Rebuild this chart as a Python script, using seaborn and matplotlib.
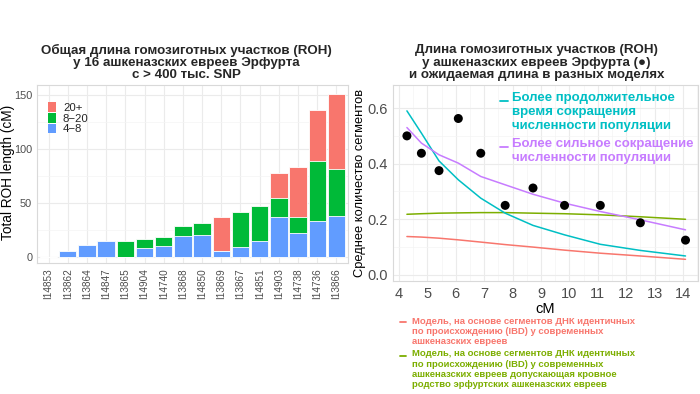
import matplotlib
matplotlib.use("Agg")
import matplotlib.pyplot as plt
import seaborn as sns
import numpy as np
import pandas as pd
from matplotlib.patches import Patch
from matplotlib.lines import Line2D
from matplotlib.ticker import MultipleLocator, FormatStrFormatter

# ---------------- data ----------------
samples = ["I14853", "I13862", "I13864", "I14847", "I13865", "I14904", "I14740", "I13868",
           "I14850", "I13869", "I13867", "I14851", "I14903", "I14738", "I14736", "I13866"]
roh_4_8 = [0, 5.6, 11.1, 14.8, 0, 8.0, 9.9, 19.4, 20.7, 5.2, 9.0, 14.5, 37.0, 22.2, 33.3, 37.7]
roh_8_20 = [0, 0, 0, 0, 15.1, 8.4, 8.6, 9.0, 10.8, 0, 32.7, 32.5, 18.0, 14.5, 55.3, 43.8]
roh_20p = [0, 0, 0, 0, 0, 0, 0, 0, 0, 31.8, 0, 0, 23.0, 46.3, 47.8, 69.1]
bin_labels = ["20+", "8\u221220", "4\u22128"]

seg_cm = [4.28, 4.79, 5.41, 6.09, 6.88, 7.74, 8.72, 9.83, 11.09, 12.50, 14.09]
observed = [0.5, 0.4375, 0.375, 0.5625, 0.4375, 0.25, 0.3125, 0.25, 0.25, 0.1875, 0.125]
model_longer = [0.59, 0.51, 0.41, 0.342, 0.276, 0.222, 0.178, 0.144, 0.110, 0.088, 0.068]
model_stronger = [0.53, 0.474, 0.432, 0.402, 0.354, 0.324, 0.290, 0.258, 0.228, 0.198, 0.162]
model_ibd_kin = [0.218, 0.220, 0.222, 0.223, 0.224, 0.224, 0.222, 0.220, 0.216, 0.209, 0.200]
model_ibd = [0.138, 0.136, 0.132, 0.126, 0.118, 0.109, 0.100, 0.089, 0.078, 0.068, 0.056]

legend_longer = "Более продолжительное\nвремя сокращения\nчисленности популяции"
legend_stronger = "Более сильное сокращение\nчисленности популяции"
legend_ibd = "Модель, на основе сегментов ДНК идентичных\nпо происхождению (IBD) у современных\nашкеназских евреев"
legend_ibd_kin = ("Модель, на основе сегментов ДНК идентичных\nпо происхождению (IBD) у современных\n"
                  "ашкеназских евреев допускающая кровное\nродство эрфуртских ашкеназских евреев")

title_left = "Общая длина гомозиготных участков (ROH)\nу 16 ашкеназских евреев Эрфурта\nс > 400 тыс. SNP"
title_right = "Длина гомозиготных участков (ROH)\nу ашкеназских евреев Эрфурта (\u25CF)\nи ожидаемая длина в разных моделях"

# colors
C_RED = "#F8766D"
C_GREEN = "#00BA38"
C_BLUE = "#619CFF"
C_CYAN = "#00BFC4"
C_PURPLE = "#C77CFF"
C_OLIVE = "#7CAE00"

sns.set_theme(style="white")
plt.rcParams["font.family"] = ["Liberation Sans", "DejaVu Sans"]

fig = plt.figure(figsize=(7.0, 3.94), dpi=100)
W, H = 700, 394


def px_axes(l, t, r, b):
    return fig.add_axes([l / W, 1 - b / H, (r - l) / W, (b - t) / H])


def style_axes(ax):
    for s in ax.spines.values():
        s.set_color("#d9d9d9")
        s.set_linewidth(0.8)
    ax.grid(True, which="major", color="#ebebeb", linewidth=0.8)
    ax.grid(True, which="minor", color="#f4f4f4", linewidth=0.5)
    ax.set_axisbelow(True)
    ax.tick_params(which="major", length=2.5, width=0.6, color="#bfbfbf", colors="#4d4d4d")
    ax.tick_params(which="minor", length=0)


# ---------------- left panel ----------------
axL = px_axes(37, 85, 348, 263)
df = pd.DataFrame({"sample": samples,
                   "b48": roh_4_8,
                   "b820": roh_8_20,
                   "b20": roh_20p})
df["cum_820"] = df["b48"] + df["b820"]
df["cum_20"] = df["cum_820"] + df["b20"]

common = dict(x="sample", order=samples, ax=axL, width=0.9, edgecolor="white",
              linewidth=0.6, saturation=1)
sns.barplot(data=df, y="cum_20", color=C_RED, **common)
sns.barplot(data=df, y="cum_820", color=C_GREEN, **common)
sns.barplot(data=df, y="b48", color=C_BLUE, **common)

axL.set_xlim(-0.6, len(samples) - 0.4)
axL.set_ylim(-5.6, 159.3)
axL.yaxis.set_major_locator(MultipleLocator(50))
axL.yaxis.set_minor_locator(MultipleLocator(25))
style_axes(axL)
axL.tick_params(axis="x", rotation=90, labelsize=7.2, pad=1.5)
axL.tick_params(axis="y", labelsize=7.8, pad=1.0)
axL.set_xlabel("")
axL.set_ylabel("Total ROH length (cM)", fontsize=9.8, color="black")
axL.yaxis.set_label_coords(-0.071, 0.51)
axL.set_title(title_left, fontsize=9.6, fontweight="bold", linespacing=1.02, pad=5, x=0.48)

handles = [Patch(facecolor=c, edgecolor="none") for c in (C_RED, C_GREEN, C_BLUE)]
axL.legend(handles, bin_labels, loc="upper left", bbox_to_anchor=(0.01, 0.95), frameon=False,
           fontsize=8.2, handlelength=0.7, handleheight=0.95, handletextpad=0.6,
           labelspacing=0.0, borderpad=0.2)

# ---------------- right panel ----------------
axR = px_axes(393, 85, 698, 281)
dfm = pd.DataFrame({"cm": seg_cm * 4,
                    "val": model_ibd + model_ibd_kin + model_longer + model_stronger,
                    "model": (["ibd"] * len(seg_cm) + ["kin"] * len(seg_cm) +
                              ["longer"] * len(seg_cm) + ["stronger"] * len(seg_cm))})
sns.lineplot(data=dfm, x="cm", y="val", hue="model",
             palette={"ibd": C_RED, "kin": C_OLIVE, "longer": C_CYAN, "stronger": C_PURPLE},
             linewidth=1.1, legend=False, ax=axR)
sns.scatterplot(x=seg_cm, y=observed, color="black", s=42, edgecolor="none", ax=axR, zorder=5)

axR.set_xlim(3.79, 14.53)
axR.set_ylim(-0.022, 0.683)
axR.xaxis.set_major_locator(MultipleLocator(1))
axR.xaxis.set_minor_locator(MultipleLocator(0.5))
axR.yaxis.set_major_locator(MultipleLocator(0.2))
axR.yaxis.set_minor_locator(MultipleLocator(0.1))
axR.yaxis.set_major_formatter(FormatStrFormatter("%.1f"))
style_axes(axR)
axR.tick_params(axis="both", labelsize=10.5, pad=1.5)
axR.set_xlabel("cM", fontsize=10.5, color="black", labelpad=1)
axR.set_ylabel("Среднее количество сегментов", fontsize=9.3, color="black")
axR.yaxis.set_label_coords(-0.087, 0.5)
axR.set_title(title_right, fontsize=9.6, fontweight="bold", linespacing=1.05, pad=5, x=0.47)


def key_and_text(x_key, y_key, x_text, y_text, color, text, fs, ls, klen=7):
    fig.add_artist(Line2D([x_key / W, (x_key + klen) / W], [1 - y_key / H, 1 - y_key / H],
                          color=color, linewidth=1.3, transform=fig.transFigure))
    fig.text(x_text / W, 1 - y_text / H, text, color=color, fontsize=fs, fontweight="bold",
             ha="left", va="top", linespacing=ls)


# inline legend (top right, inside panel)
key_and_text(500, 101, 512, 92, C_CYAN, legend_longer, 9.5, 1.25, 8)
key_and_text(500, 147, 512, 138, C_PURPLE, legend_stronger, 9.5, 1.25, 8)
# legend below the right panel
key_and_text(400, 322, 412, 316.5, C_RED, legend_ibd, 6.8, 1.18, 6)
key_and_text(400, 356, 412, 349.5, C_OLIVE, legend_ibd_kin, 6.8, 1.18, 6)

fig.savefig("out.png", dpi=100)
